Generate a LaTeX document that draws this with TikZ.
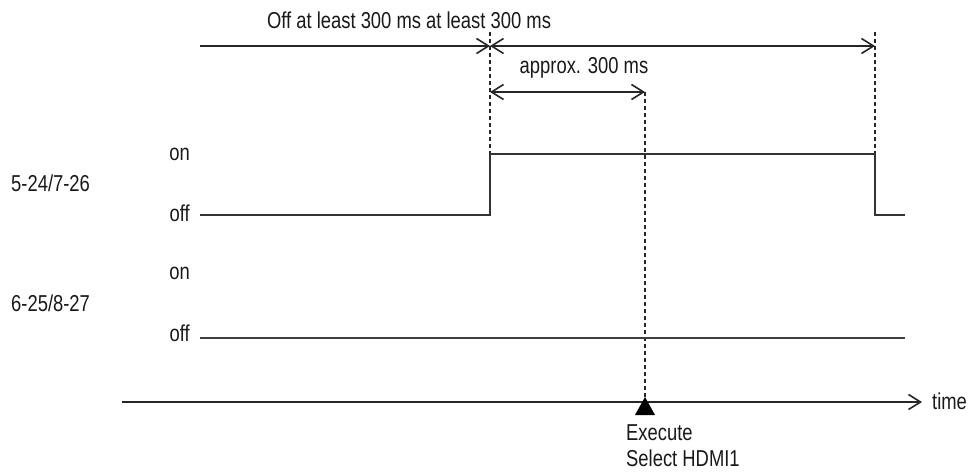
\documentclass[tikz,border=0pt]{standalone}
\usepackage{fontspec}
\setmainfont{Liberation Sans}[FakeStretch=0.8]
\usetikzlibrary{arrows.meta}
\begin{document}
\begin{tikzpicture}[x=1pt,y=-1pt,
  >={Straight Barb[length=12pt,width=15pt,line width=1.6pt]},
  lbl/.style={inner sep=0pt,font=\fontsize{23}{27}\selectfont,text=black!90},
  sig/.style={line width=2.2pt,black!80},
  thin sig/.style={line width=1.6pt,black!75},
  guide/.style={line width=1.6pt,black!85,dash pattern=on 4pt off 3pt},
  meas/.style={line width=2.2pt,black!85},
]
\useasboundingbox (0,0) rectangle (971,476);
% key coordinates
\coordinate (topL) at (200,46);
\coordinate (topM) at (490,46);
\coordinate (topR) at (875,46);
\coordinate (dashAtop) at (490,32);
\coordinate (dashBtop) at (875,32);
\coordinate (apL) at (490,92);
\coordinate (apR) at (645,92);
\coordinate (s1start) at (200,215);
\coordinate (s1rise) at (490,215);
\coordinate (s1on) at (490,154);
\coordinate (s1fallT) at (875,154);
\coordinate (s1fallB) at (875,215);
\coordinate (s1end) at (905,215);
\coordinate (s2start) at (200,338);
\coordinate (s2end) at (905,338);
\coordinate (axL) at (122,402);
\coordinate (axR) at (922,402);
\coordinate (exe) at (645,402);

% texts
\node[lbl] (ttop) at (409,20) {Off at least 300 ms at least 300 ms};
\node[lbl] (tapprox) at (584,68) {approx. 300 ms};
\node[lbl,anchor=east] (on1) at (190,154) {on};
\node[lbl,anchor=east] (off1) at (190,213) {off};
\node[lbl,anchor=east] (on2) at (190,273) {on};
\node[lbl,anchor=east] (off2) at (190,333) {off};
\node[lbl,anchor=west] (sigA) at (11,183) {5-24/7-26};
\node[lbl,anchor=west] (sigB) at (11,303) {6-25/8-27};
\node[lbl,anchor=west] (ttime) at (932,401) {time};
\node[lbl,anchor=north west,align=left] (texe) at (626,424) {Execute\\[-1pt]Select HDMI1};

% top measurement arrows
\draw[meas,->] (topL) -- (topM);
\draw[meas,<->] (topM) -- (topR);
\draw[line width=1.6pt,black!85,<->] (apL) -- (apR);

% guides
\draw[guide] (dashAtop) -- (s1on);
\draw[guide] (dashBtop) -- (s1fallT);
\draw[guide] (apR) -- (exe);

% signals
\draw[sig] (s1start) -- (s1rise) -- (s1on) -- (s1fallT) -- (s1fallB) -- (s1end);
\draw[thin sig] (s2start) -- (s2end);

% time axis
\draw[line width=2pt,black!85,->] (axL) -- (axR);
\fill[black] (645,397) -- (655,415) -- (635,415) -- cycle;
\end{tikzpicture}
\end{document}
